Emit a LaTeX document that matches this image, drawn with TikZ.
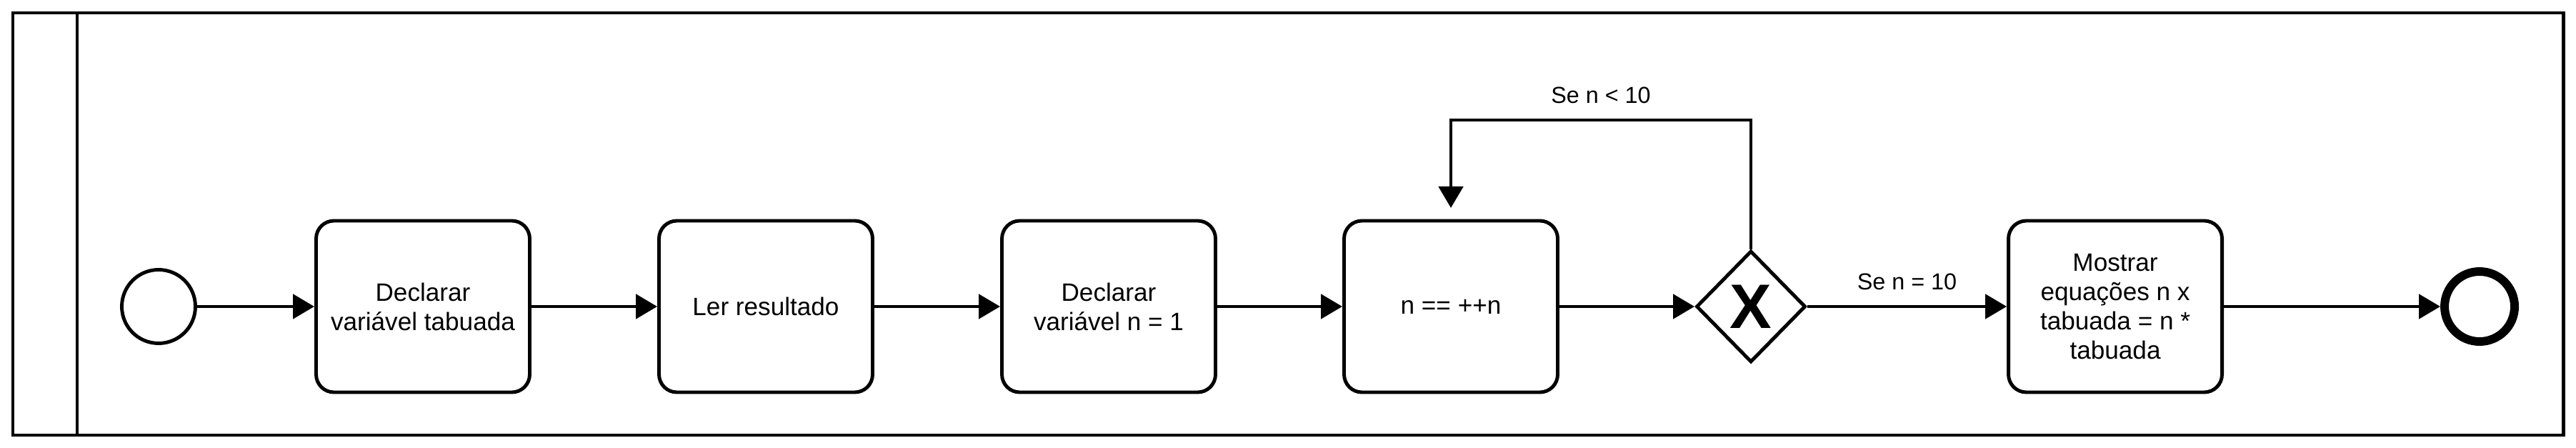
\documentclass[tikz,border=0pt]{standalone}
\usepackage{fontspec}
\setmainfont{Liberation Sans}
\usepackage{tikz}
\usetikzlibrary{arrows.meta}
\usetikzlibrary{shapes,shapes.geometric}
\pgfdeclarelayer{edgelayer}
\pgfdeclarelayer{nodelayer}
\pgfsetlayers{edgelayer,nodelayer,main}
\tikzstyle{pool}=[line width=1.4pt]
\tikzstyle{task}=[shape=rectangle,draw=black,fill=white,line width=1.4pt,rounded corners=0.25cm,minimum width=2.99cm,minimum height=2.4cm,align=center,font=\fontsize{10}{11.7}\selectfont]
\tikzstyle{start event}=[shape=circle,draw=black,fill=white,line width=1.4pt,minimum size=1.03cm,inner sep=0pt]
\tikzstyle{end event}=[start event,line width=3.4pt,minimum size=0.98cm]
\tikzstyle{xgate}=[shape=diamond,draw=black,fill=white,line width=1.4pt,minimum width=1.53cm,minimum height=1.56cm,inner sep=0pt]
\tikzstyle{seqflow}=[line width=1.4pt,-{Triangle[length=0.3cm,width=0.34cm]}]
\tikzstyle{cond}=[font=\fontsize{9.2}{11}\selectfont,above=0.09cm]

\begin{document}
\begin{tikzpicture}
	\useasboundingbox (0, 0) rectangle (36.06, -6.27);
	\draw [style=pool] (0.18, -0.18) rectangle (35.88, -6.09);
	\draw [style=pool] (1.08, -0.18) -- (1.08, -6.09);
	\begin{pgfonlayer}{nodelayer}
		\node [style=start event] (s1) at (2.22, -4.29) {};
		\node [style=task] (t1) at (5.92, -4.29) {Declarar\\variável tabuada};
		\node [style=task] (t2) at (10.72, -4.29) {Ler resultado};
		\node [style=task] (t3) at (15.52, -4.29) {Declarar\\variável n = 1};
		\node [style=task] (t4) at (20.31, -4.29) {n == ++n};
		\node [style=xgate, label={center:\fontsize{25}{25}\selectfont\bfseries X}] (g1) at (24.51, -4.29) {};
		\node [style=task] (t5) at (29.61, -4.29) {Mostrar\\equações n x\\tabuada = n *\\tabuada};
		\node [style=end event] (e1) at (34.71, -4.29) {};
		\coordinate (l1) at (20.31, -2.91);
		\coordinate (l2) at (20.31, -1.68);
	\end{pgfonlayer}
	\begin{pgfonlayer}{edgelayer}
		\draw [style=seqflow] (s1) to (t1);
		\draw [style=seqflow] (t1) to (t2);
		\draw [style=seqflow] (t2) to (t3);
		\draw [style=seqflow] (t3) to (t4);
		\draw [style=seqflow] (t4) to (g1);
		\draw [style=seqflow] (g1) to node [style=cond] {Se n = 10} (t5);
		\draw [style=seqflow] (t5) to (e1);
		\draw [style=seqflow] (g1.north) |- node [style=cond, pos=0.75] {Se n < 10} (l2) -- (l1);
	\end{pgfonlayer}
\end{tikzpicture}
\end{document}
